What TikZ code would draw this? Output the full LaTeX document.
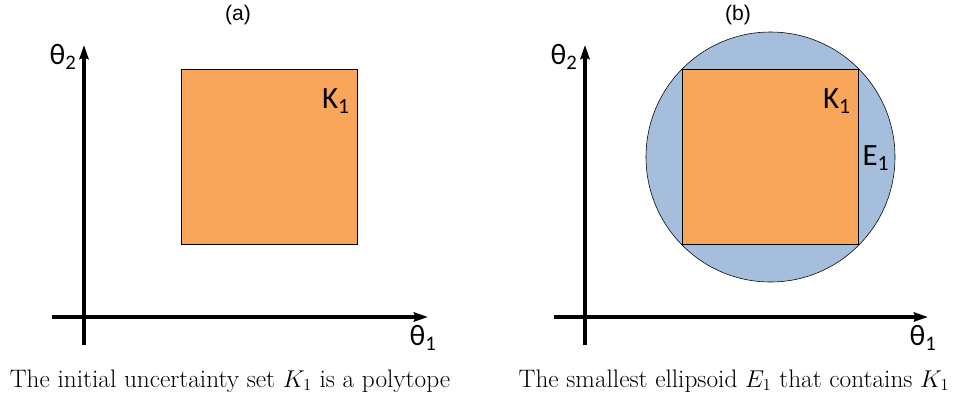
\documentclass[tikz,border=0pt]{standalone}
\usepackage{fontspec}
\newfontfamily\labelfont{Carlito}
\newfontfamily\tagfont{Liberation Sans}
\usetikzlibrary{arrows.meta}
\definecolor{setorange}{HTML}{F9A65A}
\definecolor{setblue}{HTML}{A4BEDC}
\tikzset{
  axis/.style={line width=2.2pt,-{Stealth[length=10pt,width=6.5pt,inset=1pt]}},
  polytope/.style={draw,thin,fill=setorange},
  ellipsoid/.style={draw,thin,fill=setblue},
  lbl/.style={font=\labelfont\fontsize{22}{26}\selectfont,inner sep=0pt},
  axlbl/.style={font=\labelfont\fontsize{21}{25}\selectfont,inner sep=0pt},
  tag/.style={font=\tagfont\fontsize{15}{18}\selectfont,inner sep=0pt},
  caption/.style={font=\fontsize{18}{21}\selectfont,inner sep=0pt}
}
\begin{document}
\begin{tikzpicture}[x=0.025cm,y=-0.025cm]
	\useasboundingbox (0,0) rectangle (961,396);
	% (a) the polytope
	\node[tag] (taga) at (238,15) {(a)};
	\draw [polytope] (181.5,69) rectangle (357.5,244);
	\draw [axis] (84,345) -- (84,45);
	\draw [axis] (52,317) -- (428,317);
	\node[axlbl] (tha2) at (63,57) {θ\textsubscript{2}};
	\node[axlbl] (tha1) at (423,338) {θ\textsubscript{1}};
	\node[lbl] (ka) at (336,101) {K\textsubscript{1}};
	\node[caption] (capa) at (230,381) {The initial uncertainty set $K_1$ is a polytope};
	% (b) the ellipsoid round it
	\node[tag] (tagb) at (738,15) {(b)};
	\draw [ellipsoid] (770.5,157) ellipse [x radius=124.5, y radius=125];
	\draw [polytope] (682.5,69) rectangle (858,244);
	\draw [axis] (585,345) -- (585,45);
	\draw [axis] (554,317) -- (928,317);
	\node[axlbl] (thb2) at (564,57) {θ\textsubscript{2}};
	\node[axlbl] (thb1) at (923,338) {θ\textsubscript{1}};
	\node[lbl] (kb) at (837,101) {K\textsubscript{1}};
	\node[lbl] (eb) at (876,158) {E\textsubscript{1}};
	\node[caption] (capb) at (734,381) {The smallest ellipsoid $E_1$ that contains $K_1$};
\end{tikzpicture}
\end{document}
